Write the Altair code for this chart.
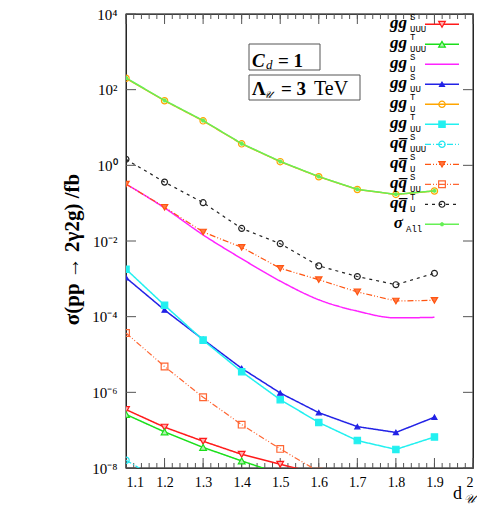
import altair as alt
import pandas as pd

# ---------------- data ----------------
d_values = [1.1, 1.2, 1.3, 1.4, 1.5, 1.6, 1.7, 1.8, 1.9]

gg_UUU_S = [3.5e-7, 1.2e-7, 5.1e-8, 2.3e-8, 1.26e-8, 7e-9]
gg_UUU_T = [2.6e-7, 9e-8, 3.5e-8, 1.54e-8, 7e-9]
gg_U_S = [0.32, 0.075, 0.0145, 0.0034, 8.7e-4, 2.8e-4, 1.4e-4, 9.3e-5, 9.6e-5]
gg_UU_S = [1.07e-3, 1.5e-4, 2.5e-5, 4.3e-6, 9.6e-7, 2.9e-7, 1.24e-7, 8.7e-8, 2.2e-7]
gg_U_T = [200, 51, 15, 3.7, 1.25, 0.5, 0.23, 0.17, 0.21]
gg_UU_T = [1.8e-3, 2.0e-4, 2.4e-5, 3.5e-6, 6.4e-7, 1.6e-7, 5.3e-8, 3.1e-8, 6.6e-8]
qq_UUU_S = [1.6e-8, 4e-9]
qq_U_S = [0.32, 0.078, 0.0173, 0.0068, 0.0019, 9.5e-4, 4.5e-4, 2.6e-4, 2.7e-4]
qq_UU_S = [3.7e-5, 4.8e-6, 7.4e-7, 1.4e-7, 3.2e-8, 8e-9]
qq_U_T = [1.44, 0.36, 0.103, 0.0215, 0.0085, 0.0022, 0.00115, 0.0007, 0.0014]
sigma_All = [204, 52, 15.3, 3.75, 1.27, 0.505, 0.232, 0.171, 0.212]

x_ticks = [1.1, 1.2, 1.3, 1.4, 1.5, 1.6, 1.7, 1.8, 1.9, 2.0]
x_minor = [round(1.1 + 0.02 * i, 2) for i in range(46)]
y_ticks = [1e-8, 1e-6, 1e-4, 1e-2, 1, 1e2, 1e4]
y_tick_text = ["10⁻⁸", "10⁻⁶", "10⁻⁴", "10⁻²", "10⁰", "10²", "10⁴"]

legend_main = ["gg", "gg", "gg", "gg", "gg", "gg", "qq̅", "qq̅", "qq̅", "qq̅", "σ"]
legend_sup = ["S", "T", "S", "S", "T", "T", "S", "S", "S", "T", ""]
legend_sub = ["UUU", "UUU", "U", "UU", "U", "UU", "UUU", "U", "UU", "U", "All"]
series_values = [gg_UUU_S, gg_UUU_T, gg_U_S, gg_UU_S, gg_U_T, gg_UU_T,
                 qq_UUU_S, qq_U_S, qq_UU_S, qq_U_T, sigma_All]

# ---------------- styles ----------------
styles = [
    dict(color="#ff1a1a", fill="#ffb0b0", dash=[1, 0], shape="triangle-down", size=45, w=1.5),
    dict(color="#1adf1a", fill="#b0f0b0", dash=[1, 0], shape="triangle-up", size=45, w=1.5),
    dict(color="#ff22ff", fill="none", dash=[1, 0], shape=None, size=0, w=1.5),
    dict(color="#2222e6", fill="#2222e6", dash=[1, 0], shape="triangle-up", size=25, w=1.5),
    dict(color="#ffa500", fill="none", dash=[1, 0], shape="circle", size=40, w=1.5),
    dict(color="#22f0f0", fill="#22f0f0", dash=[1, 0], shape="square", size=40, w=1.5),
    dict(color="#22e6f0", fill="none", dash=[6, 2, 1, 2], shape="circle", size=40, w=1.2),
    dict(color="#ff5511", fill="#ff7744", dash=[6, 2, 1, 2, 1, 2], shape="triangle-down", size=40, w=1.2),
    dict(color="#ff6633", fill="none", dash=[6, 2, 1, 2, 1, 2], shape="square", size=45, w=1.2),
    dict(color="#222222", fill="none", dash=[3, 4], shape="circle", size=35, w=1.2),
    dict(color="#66f055", fill="#66f055", dash=[1, 0], shape="cross", size=8, w=1.5),
]
interps = ["linear", "linear", "monotone", "linear", "linear", "linear",
           "linear", "linear", "linear", "linear", "linear"]

TOP = 6
RIGHT = 4
W, H = 347, 454
OX, OY = 126, 8 + TOP          # page position of the plot's top-left corner
SERIF = "Liberation Serif"
MONO = "Liberation Mono"


def px(x):
    return x - OX


def py(y):
    return y - OY


xs = alt.Scale(domain=[1.1, 2.0], nice=False, zero=False)
ys = alt.Scale(type="log", domain=[1e-8, 1e4], nice=False)

label_expr = " : ".join(
    f"datum.value < {v * 1.5} && datum.value > {v / 1.5} ? '{t}'"
    for v, t in zip(y_ticks, y_tick_text)) + " : ''"

x_axis = alt.Axis(values=x_ticks, format=".1~f", tickSize=0, domain=False, grid=False,
                  labelFont=SERIF, labelFontSize=14, labelColor="black",
                  labelPadding=7, title=None)
y_axis = alt.Axis(values=y_ticks, labelExpr=label_expr, tickSize=0, domain=False, grid=False,
                  labelFont=SERIF, labelFontSize=15, labelColor="black", labelPadding=9,
                  title="σ(pp → 2γ2g) /fb", titleFont=SERIF, titleFontSize=21,
                  titleFontWeight="bold", titleColor="black", titleAngle=270,
                  titleX=px(72), titleY=py(249), titleAlign="center", titleBaseline="middle")


def xe(f):
    return alt.X(f, type="quantitative", scale=xs, axis=x_axis)


def ye(f):
    return alt.Y(f, type="quantitative", scale=ys, axis=y_axis)


layers = []

# tick marks (inward)
ydf = pd.DataFrame({"v": y_ticks})
layers.append(alt.Chart(ydf).mark_rule(color="#555555", strokeWidth=1).encode(
    y=ye("v"), x=alt.value(0), x2=alt.value(10)))
layers.append(alt.Chart(ydf).mark_rule(color="#555555", strokeWidth=1).encode(
    y=ye("v"), x=alt.value(W - 10), x2=alt.value(W)))
xmaj = pd.DataFrame({"v": x_ticks})
xmin = pd.DataFrame({"v": x_minor})
for y0, y1, df in [(H, H - 10, xmaj), (H, H - 5, xmin), (0, 10, xmaj), (0, 5, xmin)]:
    layers.append(alt.Chart(df).mark_rule(color="#555555", strokeWidth=1).encode(
        x=xe("v"), y=alt.value(y0), y2=alt.value(y1)))

# data series
for vals, st, ip in zip(series_values, styles, interps):
    df = pd.DataFrame({"d": d_values[:len(vals)], "s": vals})
    layers.append(alt.Chart(df).mark_line(
        color=st["color"], strokeDash=st["dash"], strokeWidth=st["w"],
        interpolate=ip, clip=True).encode(x=xe("d"), y=ye("s")))
    if st["shape"]:
        layers.append(alt.Chart(df).mark_point(
            shape=st["shape"], filled=False, stroke=st["color"], fill=st["fill"],
            size=st["size"], strokeWidth=1.2, opacity=1, clip=True).encode(
            x=xe("d"), y=ye("s")))

# legend
one = pd.DataFrame({"a": [0]})
for i, (m, sp, sb, st) in enumerate(zip(legend_main, legend_sup, legend_sub, styles)):
    yc = py(24.3 + 20 * i)
    layers.append(alt.Chart(one).mark_rule(color=st["color"], strokeDash=st["dash"],
                                           strokeWidth=st["w"]).encode(
        x=alt.value(px(425)), x2=alt.value(px(459)), y=alt.value(yc)))
    if st["shape"]:
        layers.append(alt.Chart(one).mark_point(
            shape=st["shape"], filled=False, stroke=st["color"], fill=st["fill"],
            size=st["size"], strokeWidth=1.2, opacity=1).encode(
            x=alt.value(px(442)), y=alt.value(yc)))
    xr = px(403) if m == "σ" else px(407)
    layers.append(alt.Chart(one).mark_text(
        align="right", baseline="alphabetic", font=SERIF, fontSize=17,
        fontStyle="italic", fontWeight="bold", color="black", text=m).encode(
        x=alt.value(xr), y=alt.value(yc + 4)))
    if sp:
        layers.append(alt.Chart(one).mark_text(
            align="left", baseline="alphabetic", font=MONO, fontSize=9,
            color="black", text=sp).encode(x=alt.value(xr + 3), y=alt.value(yc - 4)))
    layers.append(alt.Chart(one).mark_text(
        align="left", baseline="alphabetic", font=MONO, fontSize=9,
        color="black", text=sb).encode(x=alt.value(xr + 3), y=alt.value(yc + 8)))

# annotation boxes
for x0, x1, y0, y1 in [(249, 320, 44, 70), (249, 360, 75, 100)]:
    layers.append(alt.Chart(one).mark_rect(fill="white", stroke="#555555", strokeWidth=1).encode(
        x=alt.value(px(x0)), x2=alt.value(px(x1)), y=alt.value(py(y0)), y2=alt.value(py(y1))))

texts = [
    ("C", 252, 66.7, 19, "italic", "bold"),
    ("d", 266, 69, 13, "italic", "normal"),
    ("= 1", 278, 66.7, 19, "normal", "bold"),
    ("Λ", 252, 95, 19, "normal", "bold"),
    ("𝒰", 263, 98, 10, "italic", "normal"),
    ("= 3", 281, 95, 19, "normal", "bold"),
    ("TeV", 314, 95, 20, "normal", "normal"),
    ("d", 453, 499, 18, "normal", "normal"),
    ("𝒰", 464, 503, 12, "italic", "normal"),
]
for t, x, y, fs, fst, fw in texts:
    layers.append(alt.Chart(one).mark_text(
        align="left", baseline="alphabetic", font=SERIF, fontSize=fs,
        fontStyle=fst, fontWeight=fw, color="black", text=t).encode(
        x=alt.value(px(x)), y=alt.value(py(y))))

chart = alt.layer(*layers).properties(
    width=W, height=H,
    autosize=alt.AutoSizeParams(type="none"),
    padding={"left": OX - 8, "top": TOP, "right": RIGHT, "bottom": 40},
).configure_view(stroke="black", strokeWidth=1.3)

chart.save("out.html", embed_options={"renderer": "svg", "actions": False})
